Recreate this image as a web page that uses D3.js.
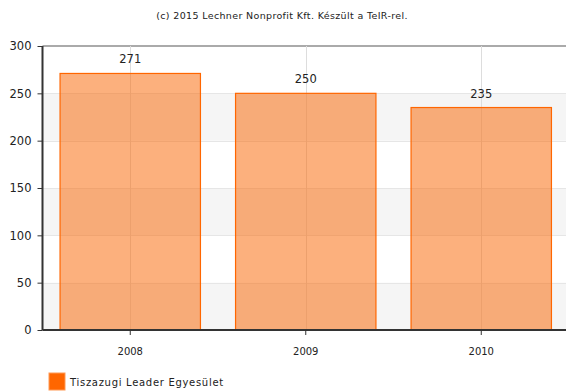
<!DOCTYPE html>
<html><head><meta charset="utf-8">
<script src="https://cdn.jsdelivr.net/npm/d3@7"></script>
<style>body{margin:0;background:#fff}svg{display:block;font-family:"DejaVu Sans",Verdana,sans-serif}</style>
</head><body>
<svg id="c" width="566" height="392"></svg>
<script>
const categories = ["2008", "2009", "2010"];
const values = [271, 250, 235];
const yTicks = [0, 50, 100, 150, 200, 250, 300];
const seriesName = "Tiszazugi Leader Egyesület";
const title = "(c) 2015 Lechner Nonprofit Kft. Készült a TeIR-rel.";

(function () {
const svg = d3.select("#c");
const pL = 42.5, pR = 569, pT = 46, pB = 330;
const x = d3.scaleBand().domain(categories).range([pL, pR]).padding(0);
const y = d3.scaleLinear().domain([0, 300]).range([pB, pT]);

// alternating bands
const bands = d3.pairs(yTicks);
svg.append("g").selectAll("rect").data(bands.filter((d, i) => i % 2 === 0))
  .join("rect")
  .attr("x", pL).attr("width", 566 - pL)
  .attr("y", d => y(d[1])).attr("height", d => y(d[0]) - y(d[1]))
  .attr("fill", "#f5f5f5");

// horizontal grid
svg.append("g").selectAll("line").data(yTicks.slice(1, -1)).join("line")
  .attr("x1", pL).attr("x2", 566)
  .attr("y1", d => Math.round(y(d)) + 0.5).attr("y2", d => Math.round(y(d)) + 0.5)
  .attr("stroke", "#e6e6e6");
svg.append("line").attr("x1", pL).attr("x2", 566)
  .attr("y1", y(300)).attr("y2", y(300)).attr("stroke", "#aaaaaa").attr("stroke-width", 2);

// vertical grid
svg.append("g").selectAll("line").data(categories).join("line")
  .attr("x1", d => Math.round(x(d) + x.bandwidth() / 2) + 0.5)
  .attr("x2", d => Math.round(x(d) + x.bandwidth() / 2) + 0.5)
  .attr("y1", pT).attr("y2", pB).attr("stroke", "#dddddd");

// bars
const bw = x.bandwidth() * 0.8;
svg.append("g").selectAll("rect").data(values).join("rect")
  .attr("x", (d, i) => x(categories[i]) + (x.bandwidth() - bw) / 2)
  .attr("width", bw)
  .attr("y", d => y(d)).attr("height", d => pB - y(d))
  .attr("fill", "#f96a0a").attr("fill-opacity", 0.53)
  .attr("stroke", "#ff6600").attr("stroke-width", 1.2);

// value labels
svg.append("g").selectAll("text").data(values).join("text")
  .attr("x", (d, i) => x(categories[i]) + x.bandwidth() / 2)
  .attr("y", d => y(d) - 10)
  .attr("text-anchor", "middle").attr("font-size", 11.5).attr("fill", "#222")
  .text(d => d);

// y axis
const yAxis = svg.append("g").attr("transform", `translate(${pL},0)`)
  .call(d3.axisLeft(y).tickValues(yTicks).tickSize(5).tickPadding(6));
yAxis.select(".domain").attr("stroke", "#333").attr("stroke-width", 2).attr("d", `M0,${pT}V${pB}`);
yAxis.selectAll(".tick line").attr("stroke", "#333");
yAxis.selectAll(".tick text").attr("font-size", 11.5).attr("fill", "#222")
  .attr("font-family", "DejaVu Sans, Verdana, sans-serif");

// x axis
const xAxis = svg.append("g").attr("transform", `translate(0,${pB})`)
  .call(d3.axisBottom(x).tickSize(5).tickPadding(13));
xAxis.select(".domain").attr("stroke", "#333").attr("stroke-width", 2).attr("d", `M${pL},0H566`);
xAxis.selectAll(".tick line").attr("stroke", "#333");
xAxis.selectAll(".tick text").attr("font-size", 10).attr("fill", "#222")
  .attr("font-family", "DejaVu Sans, Verdana, sans-serif");

// title
svg.append("text").attr("x", 282).attr("y", 19).attr("text-anchor", "middle")
  .attr("font-size", 9.5).attr("letter-spacing", 0.35).attr("fill", "#222").text(title);

// legend
svg.append("rect").attr("x", 49).attr("y", 373).attr("width", 16).attr("height", 17)
  .attr("fill", "#ff6600").attr("stroke", "#ff9955");
svg.append("text").attr("x", 70).attr("y", 386).attr("font-size", 10).attr("letter-spacing", 0.7)
  .attr("fill", "#222").text(seriesName);
})();
</script>
</body></html>
